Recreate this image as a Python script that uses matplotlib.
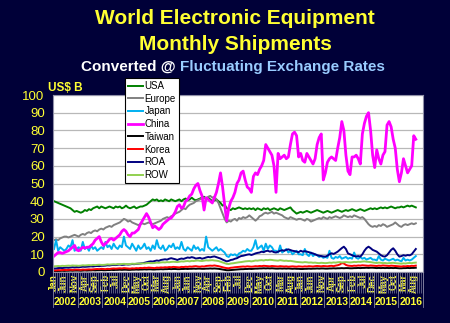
import numpy as np
import matplotlib
matplotlib.use('Agg')
import matplotlib.pyplot as plt

plt.rcParams['font.family'] = ['Liberation Sans', 'DejaVu Sans']

# monthly shipments, US$ B, Jan 2002 .. Sep 2016 (one row per year)
usa = [40, 39.5, 39, 38.5, 38, 37.5, 37, 36.5, 36, 35, 34, 34.5,
       34, 33.5, 34, 35, 34.5, 35.5, 35, 36, 36.5, 37, 36, 37,
       36.5, 36, 36.5, 37, 36.5, 36, 37, 36.5, 37, 36, 36.5, 37.5,
       36.5, 36, 36.5, 37, 36, 36.5, 37, 37, 37.5, 38, 39, 40,
       41, 40.5, 41, 40, 40.5, 40, 41, 40.5, 40, 41, 40.5, 40,
       40.5, 41, 40, 41, 41.5, 40.5, 41, 42, 41, 40.5, 41, 41.5,
       42, 42.5, 41.5, 42, 41, 40, 40.5, 41, 40, 39, 37.5, 38,
       36, 35.5, 35, 36, 35.5, 36, 36.5, 36, 35.5, 36, 35.5, 36,
       35.5, 36, 35, 36, 35.5, 35, 36, 35.5, 36, 35, 35.5, 36,
       35.5, 35, 36, 35.5, 35, 35.5, 36, 36.5, 35, 34, 33, 33.5,
       34, 33.5, 34, 34.5, 34, 33.5, 34, 34.5, 35, 34.5, 34, 33.5,
       34, 34.5, 34, 33.5, 34, 34.5, 35, 34.5, 34, 34.5, 35, 34.5,
       35, 35.5, 35, 34.5, 35, 35.5, 35, 34.5, 35, 35.5, 36, 35.5,
       36, 35.5, 36, 36.5, 36, 36.5, 36, 36.5, 37, 36.5, 36, 36.5,
       36.5, 37, 36.5, 37, 37.5, 37, 37.5, 37, 36.5]

europe = [18, 18.5, 18, 19, 19.5, 20, 20, 19.5, 20, 20.5, 21, 20.5,
          20, 21, 21.5, 21, 22, 22.5, 22, 23, 23.5, 23, 24, 24.5,
          24, 25, 25.5, 26, 25.5, 26.5, 27, 27.5, 28, 29, 30, 29.5,
          28.5, 29, 28, 27.5, 27, 26.5, 27, 27.5, 27, 27.5, 28, 27.5,
          27, 27.5, 28, 28.5, 29, 30, 30.5, 31, 30.5, 31.5, 32, 33,
          33.5, 34, 35, 36, 35.5, 37, 38, 38.5, 39, 40, 40.5, 41,
          41.5, 42, 41, 42.5, 43, 42, 42.5, 41, 39, 36, 33, 30,
          28, 29, 28.5, 29.5, 30, 29, 30.5, 30, 31, 30.5, 31, 32,
          31, 30, 29, 30, 31.5, 32, 33, 33.5, 33, 33.5, 34, 33,
          33.5, 33, 32.5, 32, 31, 30.5, 30, 31, 30.5, 30, 29.5, 30,
          30, 29.5, 29, 30, 29.5, 28.5, 29, 29.5, 30, 30.5, 30, 31,
          30.5, 30, 31, 30.5, 31, 31.5, 31, 30.5, 31, 32, 31.5, 31,
          31.5, 31, 32, 31.5, 31, 30.5, 31, 30, 28.5, 27, 26, 25.5,
          26, 25.5, 26.5, 26, 27, 26.5, 25.5, 26, 26.5, 27, 28, 27,
          26, 25.5, 26.5, 27, 26.5, 27, 27.5, 27, 27.5]

japan = [13, 18, 12, 14, 13, 12, 13, 15, 14, 18, 12, 13,
         14, 12, 17, 13, 14, 12, 15, 13, 14, 12, 13, 14,
         13, 17, 14, 15, 13, 16, 14, 13, 15, 14, 20, 15,
         14, 13, 16, 14, 12, 15, 13, 14, 16, 13, 14, 12,
         15, 13, 18, 14, 13, 15, 12, 13, 15, 14, 16, 13,
         14, 13, 17, 13, 12, 14, 13, 12, 15, 13, 14, 12,
         13, 12, 20, 14, 13, 12, 13, 14, 12, 13, 12, 11,
         9, 8.5, 10, 9.5, 10, 9, 10.5, 11, 12, 11.5, 13, 12,
         12, 14, 18, 13, 14, 15, 12, 16, 13, 15, 14, 12,
         12, 11, 15, 11, 12, 13, 11, 12, 10, 11, 12, 10,
         10, 9.5, 13, 10, 9, 11, 9, 10, 9.5, 8.5, 9, 8,
         8.5, 8, 12, 8, 7.5, 8.5, 8, 9, 7.5, 8, 8.5, 7.5,
         8, 7.5, 11, 8, 7.5, 8.5, 7.5, 8, 7, 7.5, 8, 7,
         7, 6.5, 9, 7, 6.5, 7.5, 7, 6.5, 7, 7.5, 6.5, 7,
         6.5, 6, 8, 6.5, 7, 6.5, 7, 8, 9]

china = [9, 10, 11, 11, 10.5, 11, 11.5, 12, 13, 14, 15, 12.5,
         12, 13, 14, 13.5, 14, 14, 15, 16, 18, 19, 20, 17,
         15, 16, 17, 18.5, 19, 18, 19, 20, 21, 23, 24, 23,
         21, 20, 22, 22, 23, 24, 27, 29, 31, 33, 31, 28,
         25, 26, 25, 24, 25, 27, 28, 29, 30, 30.5, 32, 34,
         37, 38, 36, 37, 40, 41, 43, 44, 47, 49, 50, 46,
         43, 35, 42, 41, 40, 39, 42, 45, 50, 56, 48, 38,
         29, 36, 40, 42, 45, 50, 52, 56, 57, 52, 48, 47,
         45, 54, 56, 55, 58, 60, 63, 72, 70, 68, 66, 60,
         45, 67, 64, 65, 66, 64, 65, 72, 78, 79, 77, 65,
         67, 63, 62, 67, 65, 63, 61, 64, 72, 76, 78, 52,
         56, 62, 64, 65, 64, 63, 70, 76, 85, 80, 66, 57,
         55, 65, 65, 66, 64, 61, 78, 84, 88, 90, 80, 66,
         59, 69, 64, 61, 66, 68, 83, 85, 82, 75, 70, 58,
         51, 56, 64, 60, 56, 58, 60, 77, 75]

taiwan = [0.5, 0.5, 0.6, 0.6, 0.7, 0.6, 0.7, 0.7, 0.8, 0.7, 0.8, 0.8,
          0.8, 0.7, 0.8, 0.9, 0.8, 0.9, 0.9, 1.0, 0.9, 1.0, 1.0, 1.1,
          1.0, 1.0, 1.1, 1.1, 1.2, 1.1, 1.2, 1.2, 1.3, 1.2, 1.3, 1.3,
          1.2, 1.2, 1.3, 1.3, 1.4, 1.3, 1.4, 1.4, 1.5, 1.4, 1.5, 1.5,
          1.4, 1.4, 1.5, 1.5, 1.6, 1.5, 1.6, 1.6, 1.7, 1.6, 1.7, 1.7,
          1.6, 1.6, 1.7, 1.7, 1.8, 1.7, 1.8, 1.8, 1.9, 1.8, 1.9, 1.9,
          1.8, 1.8, 1.9, 1.9, 2.0, 1.9, 2.0, 1.9, 1.8, 1.6, 1.4, 1.2,
          1.0, 1.0, 1.1, 1.2, 1.3, 1.4, 1.5, 1.6, 1.6, 1.7, 1.7, 1.8,
          1.7, 1.8, 1.9, 1.9, 2.0, 2.0, 2.1, 2.0, 2.1, 2.0, 2.1, 2.0,
          1.9, 1.9, 2.0, 1.9, 2.0, 1.9, 2.0, 1.9, 1.8, 1.9, 1.8, 1.8,
          1.7, 1.7, 1.8, 1.8, 1.9, 1.8, 1.9, 1.9, 2.0, 1.9, 2.0, 2.0,
          1.9, 1.9, 2.0, 2.0, 2.1, 2.0, 2.1, 2.1, 2.2, 2.1, 2.2, 2.2,
          2.1, 2.1, 2.2, 2.2, 2.3, 2.2, 2.3, 2.3, 2.4, 2.3, 2.4, 2.4,
          2.3, 2.2, 2.3, 2.2, 2.3, 2.2, 2.3, 2.2, 2.3, 2.2, 2.3, 2.2,
          2.1, 2.1, 2.2, 2.2, 2.3, 2.2, 2.3, 2.3, 2.4]

korea = [1.0, 0.9, 1.1, 1.0, 1.1, 1.2, 1.1, 1.2, 1.3, 1.2, 1.3, 1.4,
         1.3, 1.2, 1.4, 1.3, 1.4, 1.5, 1.4, 1.5, 1.6, 1.7, 1.6, 1.8,
         1.7, 1.6, 1.8, 1.7, 1.9, 2.0, 1.9, 2.0, 2.1, 2.0, 2.2, 2.1,
         2.0, 1.9, 2.1, 2.0, 2.2, 2.1, 2.3, 2.2, 2.4, 2.3, 2.5, 2.4,
         2.3, 2.2, 2.5, 2.4, 2.6, 2.5, 2.7, 2.6, 2.8, 2.7, 2.9, 2.8,
         2.7, 2.6, 2.9, 2.8, 3.0, 2.9, 3.1, 3.0, 3.2, 3.3, 3.1, 3.0,
         3.2, 3.1, 3.4, 3.5, 3.6, 3.5, 3.7, 3.5, 3.3, 3.0, 2.7, 2.4,
         2.2, 2.1, 2.4, 2.5, 2.7, 2.8, 2.9, 3.0, 3.1, 3.0, 3.2, 3.1,
         3.0, 3.1, 3.3, 3.2, 3.4, 3.3, 3.5, 3.4, 3.3, 3.2, 3.4, 3.3,
         3.2, 3.1, 3.3, 3.2, 3.1, 3.2, 3.0, 3.1, 3.2, 3.1, 3.0, 3.2,
         3.1, 3.0, 3.2, 3.1, 3.3, 3.2, 3.1, 3.3, 3.4, 3.3, 3.2, 3.4,
         3.3, 3.2, 3.4, 3.5, 3.3, 3.6, 3.8, 4.2, 5.0, 4.8, 4.0, 3.6,
         3.5, 3.4, 3.6, 3.5, 3.7, 3.6, 3.8, 3.7, 3.6, 3.5, 3.7, 3.6,
         3.5, 3.4, 3.6, 3.5, 3.7, 3.6, 3.5, 3.4, 3.6, 3.5, 3.4, 3.3,
         3.2, 3.1, 3.3, 3.2, 3.4, 3.3, 3.5, 3.4, 3.6]

roa = [2, 2, 2.2, 2.3, 2.2, 2.4, 2.5, 2.4, 2.6, 2.7, 2.6, 2.8,
       2.7, 2.8, 3, 2.9, 3, 3.1, 3.2, 3.1, 3.3, 3.4, 3.3, 3.5,
       3.5, 3.6, 3.8, 3.7, 3.9, 4, 3.9, 4.1, 4.2, 4, 4.1, 4.3,
       4.2, 4.3, 4.5, 4.4, 4.6, 4.7, 4.8, 5, 5.2, 5.5, 5.8, 6,
       5.9, 6.2, 6.5, 6.3, 6.8, 7, 7.2, 7, 7.5, 7.8, 7.5, 7.2,
       6.8, 7.3, 7.6, 7.4, 7.8, 8.2, 8, 8.4, 8.1, 7.6, 7.8, 8,
       7.5, 7.8, 8.2, 8.5, 8.3, 8.6, 8.8, 8.4, 8, 7.6, 7, 6.5,
       6, 6.3, 6.8, 7, 7.5, 7.8, 8.5, 9, 9.2, 9.5, 9.8, 10,
       9.6, 10, 10.5, 10.8, 11, 11.5, 11.2, 11.8, 12, 11.5, 11.8, 11.2,
       11, 11.5, 12, 12.3, 12, 12.5, 12.8, 12.4, 12, 11.8, 11.5, 11.2,
       12, 11.5, 11.8, 11.5, 11.2, 10.8, 10.5, 10, 9.5, 9.2, 9, 8.8,
       8.7, 9.2, 10, 10.6, 10.2, 10.8, 11.5, 12.5, 13.5, 14.3, 13, 10.5,
       10, 9.5, 9, 8.8, 9, 8.7, 10, 12, 13.5, 14.3, 13.5, 12.5,
       12, 11.5, 10.5, 9.5, 8.9, 8.7, 9.5, 11, 12.5, 13.4, 12, 10,
       8.7, 9, 9.5, 9.2, 9.6, 9.4, 10, 11.5, 13]

row = [3.2, 3.3, 3.4, 3.3, 3.5, 3.4, 3.5, 3.6, 3.5, 3.7, 3.6, 3.6,
       3.5, 3.6, 3.8, 3.7, 3.8, 3.9, 3.8, 4.0, 3.9, 4.0, 4.1, 4.0,
       4.0, 4.1, 4.3, 4.2, 4.3, 4.4, 4.3, 4.5, 4.4, 4.5, 4.6, 4.5,
       4.4, 4.5, 4.7, 4.6, 4.7, 4.8, 4.7, 4.9, 4.8, 5.0, 5.1, 5.0,
       5.0, 5.1, 5.3, 5.2, 5.4, 5.5, 5.4, 5.6, 5.5, 5.7, 5.8, 5.7,
       5.6, 5.8, 6.0, 5.9, 6.1, 6.2, 6.0, 6.3, 6.2, 6.4, 6.5, 6.3,
       6.2, 6.4, 6.6, 6.5, 6.6, 6.7, 6.5, 6.4, 6.2, 5.8, 5.4, 5.0,
       4.6, 4.5, 4.8, 4.9, 5.1, 5.3, 5.5, 5.6, 5.8, 6.0, 6.1, 6.2,
       6.0, 6.2, 6.5, 6.4, 6.6, 6.7, 6.5, 6.8, 6.7, 6.9, 6.8, 6.6,
       6.5, 6.4, 6.7, 6.5, 6.3, 6.4, 6.2, 6.3, 6.1, 5.9, 5.7, 5.6,
       5.5, 5.4, 5.6, 5.5, 5.3, 5.4, 5.2, 5.3, 5.1, 5.0, 5.2, 5.1,
       5.0, 5.1, 5.3, 5.2, 5.4, 5.3, 5.5, 5.6, 5.4, 5.5, 5.6, 5.5,
       5.4, 5.5, 5.7, 5.6, 5.8, 5.7, 5.9, 6.0, 5.8, 5.7, 5.6, 5.4,
       5.2, 5.1, 5.3, 5.2, 5.0, 5.1, 4.9, 5.0, 5.1, 5.2, 5.0, 4.9,
       4.8, 4.7, 4.9, 4.8, 5.0, 5.1, 5.0, 5.2, 5.3]

series_names = ['USA', 'Europe', 'Japan', 'China', 'Taiwan', 'Korea', 'ROA', 'ROW']
series_colors = ['#008000', '#808080', '#00b0f0', '#ff00ff', '#000000', '#ff0000', '#000080', '#92d050']
month_names = ['Jan', 'Feb', 'Mar', 'Apr', 'May', 'Jun', 'Jul', 'Aug', 'Sep', 'Oct', 'Nov', 'Dec']
years = list(range(2002, 2017))

bg = '#000038'
yellow = '#ffff33'

fig = plt.figure(figsize=(4.5, 3.23), dpi=100, facecolor=bg)
ax = fig.add_axes([53 / 450, 1 - 272 / 323, 370 / 450, 177 / 323])
ax.set_facecolor('white')

n_months = len(years) * 12
data = [usa, europe, japan, china, taiwan, korea, roa, row]
for vals, name, col in zip(data, series_names, series_colors):
    x = np.arange(len(vals)) + 0.5
    lw = 2.0 if name == 'China' else 1.4
    ax.plot(x, vals, color=col, lw=lw, label=name, solid_joinstyle='round')

ax.set_xlim(0, n_months)
ax.set_ylim(0, 100)
ax.set_yticks(np.arange(0, 101, 10))
ax.yaxis.grid(True, color='#b8b8b8', lw=0.9)
ax.set_axisbelow(True)
ax.tick_params(axis='y', colors=yellow, labelsize=9.5, length=0, pad=6)

# month labels every 5 months, tick marks every month
lab_pos = np.arange(0, 176, 5)
ax.set_xticks(lab_pos + 0.5)
ax.set_xticklabels([month_names[i % 12] for i in lab_pos], rotation=90,
                   color=yellow, fontsize=7, fontweight='bold')
ax.tick_params(axis='x', which='major', length=0, pad=1.5)
ax.set_xticks(np.arange(0, n_months + 1), minor=True)
ax.tick_params(axis='x', which='minor', length=15, width=0.5, color='#7a7a9a', direction='out')

for s in ax.spines.values():
    s.set_color('#9090a8')
    s.set_linewidth(0.8)

# year groups below month labels
trans = ax.get_xaxis_transform()
for k, yr in enumerate(years):
    ax.plot([k * 12, k * 12], [0, -0.198], transform=trans, color='#8080a0',
            lw=0.6, clip_on=False)
    ax.text(k * 12 + 6, -0.172, str(yr), transform=trans, ha='center', va='center',
            color=yellow, fontsize=7.5, fontweight='bold')
ax.plot([n_months, n_months], [0, -0.198], transform=trans, color='#8080a0',
        lw=0.6, clip_on=False)

# titles
fig.text(235 / 450, 1 - 19 / 323, 'World Electronic Equipment', ha='center', va='center',
         color=yellow, fontsize=15, fontweight='bold')
fig.text(235 / 450, 1 - 44 / 323, 'Monthly Shipments', ha='center', va='center',
         color=yellow, fontsize=15, fontweight='bold')
fig.text(176 / 450, 1 - 67 / 323, 'Converted @', ha='right', va='center',
         color='white', fontsize=11, fontweight='bold')
fig.text(180 / 450, 1 - 67 / 323, 'Fluctuating Exchange Rates', ha='left', va='center',
         color='#99ccff', fontsize=11, fontweight='bold')
fig.text(48 / 450, 1 - 88 / 323, 'US$ B', ha='left', va='center',
         color=yellow, fontsize=8.5, fontweight='bold')

leg = ax.legend(loc='upper left', bbox_to_anchor=(125 / 450, 1 - 78 / 323),
                bbox_transform=fig.transFigure, fontsize=7, frameon=True,
                fancybox=False, edgecolor='black', framealpha=1,
                handlelength=1.6, handletextpad=0.1, labelspacing=0.28,
                borderpad=0.3, borderaxespad=0)
leg.get_frame().set_linewidth(0.8)
leg.set_zorder(10)

fig.savefig('out.png', dpi=100, facecolor=bg)
